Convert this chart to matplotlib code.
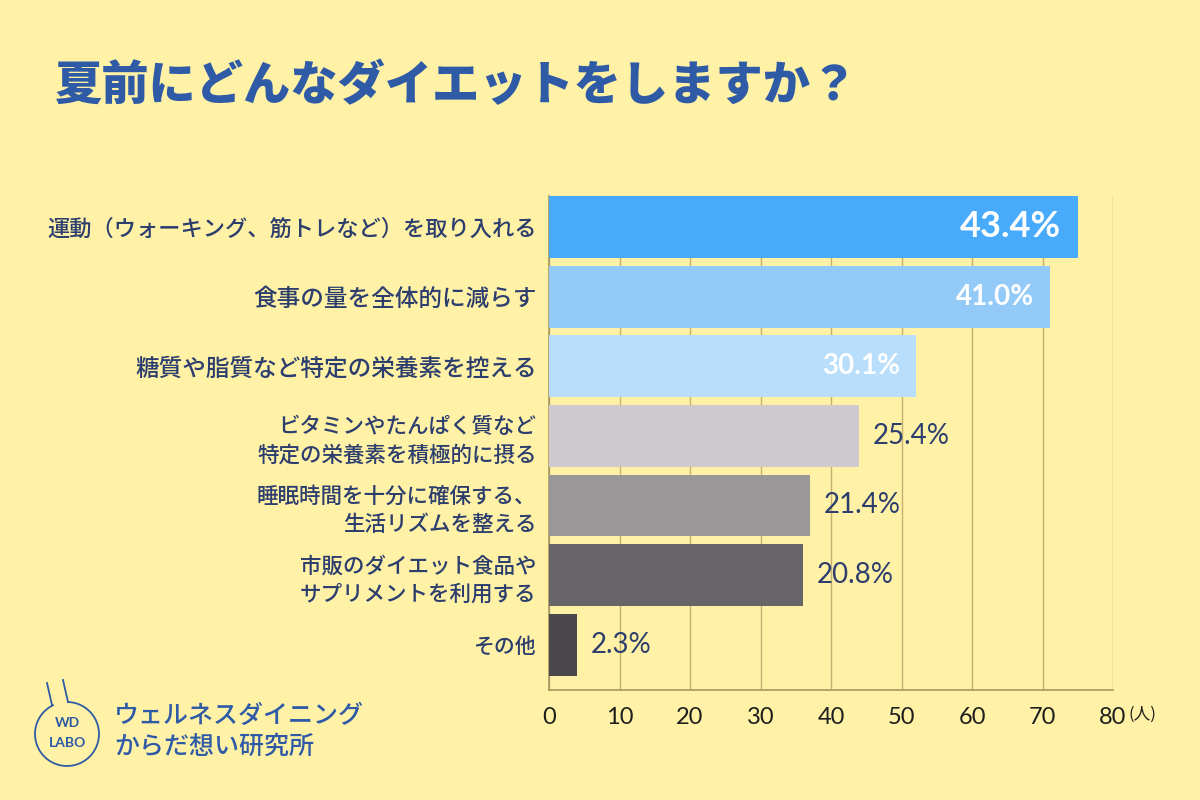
import matplotlib
matplotlib.use("Agg")
import matplotlib.pyplot as plt
import numpy as np

plt.rcParams['font.family'] = ['Noto Sans CJK JP', 'DejaVu Sans']

# Data (counts of respondents, percent labels as printed)
categories = [
    '運動（ウォーキング、筋トレなど）を取り入れる',
    '食事の量を全体的に減らす',
    '糖質や脂質など特定の栄養素を控える',
    'ビタミンやたんぱく質など\n特定の栄養素を積極的に摂る',
    '睡眠時間を十分に確保する、\n生活リズムを整える',
    '市販のダイエット食品や\nサプリメントを利用する',
    'その他',
]
counts = [75, 71, 52, 44, 37, 36, 4]
percent_labels = ['43.4%', '41.0%', '30.1%', '25.4%', '21.4%', '20.8%', '2.3%']
xticks = [0, 10, 20, 30, 40, 50, 60, 70, 80]

bar_colors = ['#48AAFB', '#93CAF8', '#B9DEFB', '#CECACE', '#9A9799', '#686568', '#4A474B']
label_sizes = [16, 17, 17, 15.5, 15.5, 15.5, 15]
bg = '#FFF1A6'
navy = '#2C3E6E'
blue = '#2E5AA6'
grid_c = '#C2B173'
num_font = ['Lato', 'DejaVu Sans']

fig = plt.figure(figsize=(12, 8), dpi=100, facecolor=bg)

# Title
fig.text(55 / 1200, 1 - 86 / 800, '夏前にどんなダイエットをしますか？',
         fontsize=34, fontweight='black', color=blue, ha='left', va='center')

# Bar chart
ax = fig.add_axes([549 / 1200, 1 - 690 / 800, (1113 - 549) / 1200, (690 - 196) / 800])
ax.set_facecolor(bg)
y = np.arange(len(categories))
ax.barh(y, counts, height=0.89, color=bar_colors, zorder=3)
ax.set_xlim(0, 80)
ax.set_ylim(6.65, -0.445)
ax.set_xticks(xticks)
ax.set_xticklabels([str(t) for t in xticks], fontsize=17, color='#1E1E1E',
                   family=num_font)
ax.tick_params(axis='x', length=0, pad=12)
ax.set_yticks(y)
ax.set_yticklabels(categories, color=navy, linespacing=1.35, fontweight='medium')
ax.tick_params(axis='y', length=0, pad=9)
for t, s in zip(ax.get_yticklabels(), label_sizes):
    t.set_multialignment('right')
    t.set_fontsize(s)
ax.grid(axis='x', color=grid_c, linewidth=1.0, zorder=1)
for s in ['top', 'right']:
    ax.spines[s].set_visible(False)
for s in ['left', 'bottom']:
    ax.spines[s].set_color('#A8985E')
    ax.spines[s].set_linewidth(1.2)

# Value labels
for i, (c, lab) in enumerate(zip(counts, percent_labels)):
    if i == 0:
        ax.annotate(lab, (c, i), xytext=(-12, 0), textcoords='offset points',
                    ha='right', va='center', fontsize=26, fontweight='bold',
                    color='white', family=num_font, zorder=4)
    elif i < 3:
        ax.annotate(lab, (c, i), xytext=(-11, 0), textcoords='offset points',
                    ha='right', va='center', fontsize=20, fontweight='bold',
                    color='white', family=num_font, zorder=4)
    else:
        ax.annotate(lab, (c, i), xytext=(10, 0), textcoords='offset points',
                    ha='left', va='center', fontsize=20,
                    color=navy, family=num_font, zorder=4)

# Overlay in pixel coordinates: unit label and logo
lg = fig.add_axes([0, 0, 1, 1], facecolor='none')
lg.set_xlim(0, 1200)
lg.set_ylim(800, 0)
lg.axis('off')
lg.text(1129, 714, '(人)', ha='left', va='center', fontsize=12, color='#1E1E1E')

cx, cy, r = 67, 734, 32
t = np.radians(np.linspace(-88, 244, 200))
lg.plot(cx + r * np.cos(t), cy + r * np.sin(t), color=blue, lw=1.3)
lg.plot([47, 52], [683, 705], color=blue, lw=1.3)
lg.plot([63, 68], [680, 702], color=blue, lw=1.3)
lg.text(cx, 723, 'WD', ha='center', va='center', fontsize=10,
        fontweight='bold', color=blue, family=num_font)
lg.text(cx, 743, 'LABO', ha='center', va='center', fontsize=10,
        fontweight='bold', color=blue, family=num_font)
lg.text(114, 716, 'ウェルネスダイニング', ha='left', va='center', fontsize=18,
        fontweight='medium', color=blue)
lg.text(114, 747, 'からだ想い研究所', ha='left', va='center', fontsize=18,
        fontweight='medium', color=blue)

fig.savefig('out.png', dpi=100, facecolor=bg)
